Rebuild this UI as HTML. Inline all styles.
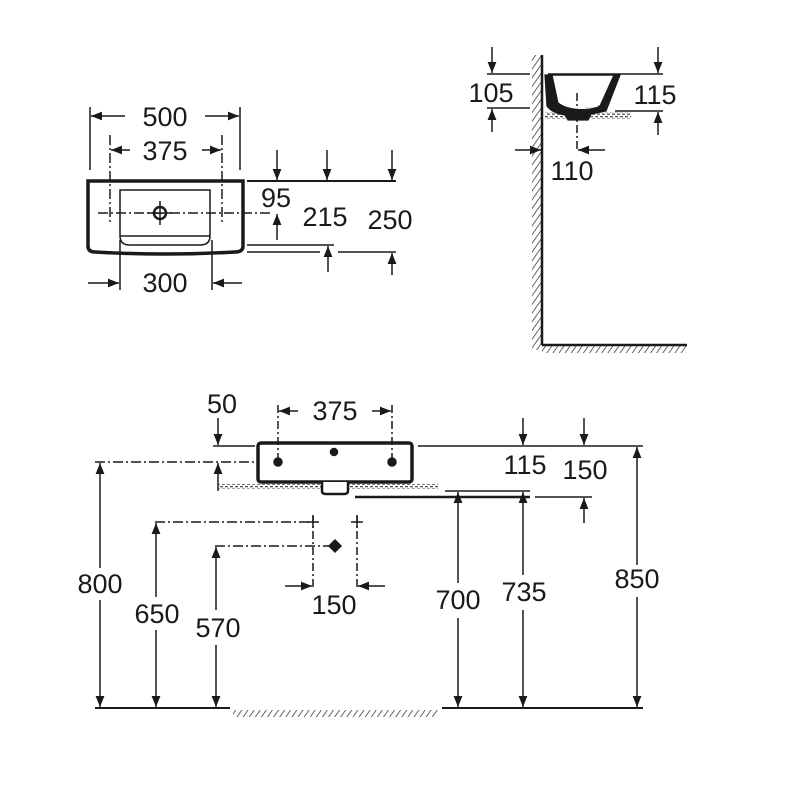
<!DOCTYPE html>
<html><head><meta charset="utf-8"><style>html,body{margin:0;padding:0;background:#fff}svg{display:block}text{font-family:"Liberation Sans",sans-serif;font-size:27px;fill:#1a1a1a}</style></head><body>
<svg width="800" height="800" viewBox="0 0 800 800" xmlns="http://www.w3.org/2000/svg">
<defs>
<marker id="a" viewBox="0 0 10 10" refX="10" refY="5" markerWidth="12" markerHeight="11" markerUnits="userSpaceOnUse" orient="auto"><path d="M0,1 L10,5 L0,9 z" fill="#1a1a1a"/></marker>
<pattern id="h" width="5" height="5" patternUnits="userSpaceOnUse" patternTransform="rotate(35)"><line x1="0" y1="0" x2="0" y2="5" stroke="#333" stroke-width="1.5"/></pattern>
<pattern id="d" width="5" height="5" patternUnits="userSpaceOnUse"><rect width="5" height="5" fill="#fff"/><rect x="0" y="1" width="3" height="1.3" fill="#555"/><rect x="2" y="3.5" width="3" height="1.3" fill="#555"/></pattern>
</defs>
<g stroke="#1a1a1a" stroke-width="1.5" fill="none">
<!-- TOP LEFT -->
<path d="M88,181 H243 V246 Q243,252 235,252 Q165,256 95,252 Q88,252 88,246 Z" stroke-width="3.5"/>
<path d="M120,190 H210 V236 Q210,245 200,245 H130 Q120,245 120,236 Z" stroke-width="1.5"/>
<line x1="120" y1="236" x2="210" y2="236"/>
<circle cx="160" cy="213" r="6" stroke-width="2.5"/>
<path d="M148,213H172M160,201V225" stroke-width="1.5"/>
<line x1="98" y1="213" x2="270" y2="213" stroke-dasharray="10,3,2,3"/>
<line x1="90" y1="107" x2="90" y2="170"/><line x1="240" y1="107" x2="240" y2="170"/>
<line x1="125" y1="116" x2="91" y2="116" marker-end="url(#a)"/><line x1="205" y1="116" x2="239" y2="116" marker-end="url(#a)"/>
<line x1="110" y1="135" x2="110" y2="225" stroke-dasharray="10,3,2,3"/><line x1="222" y1="135" x2="222" y2="225" stroke-dasharray="10,3,2,3"/>
<line x1="130" y1="150" x2="111" y2="150" marker-end="url(#a)"/><line x1="202" y1="150" x2="221" y2="150" marker-end="url(#a)"/>
<line x1="247" y1="181" x2="396" y2="181" stroke-width="2"/>
<line x1="277" y1="150" x2="277" y2="180" marker-end="url(#a)"/><line x1="327" y1="150" x2="327" y2="180" marker-end="url(#a)"/><line x1="392" y1="150" x2="392" y2="180" marker-end="url(#a)"/>
<line x1="277" y1="240" x2="277" y2="214" marker-end="url(#a)"/>
<line x1="247" y1="245" x2="334" y2="245"/><line x1="247" y1="252" x2="320" y2="252"/><line x1="338" y1="252" x2="396" y2="252"/>
<line x1="328" y1="272" x2="328" y2="246" marker-end="url(#a)"/><line x1="392" y1="275" x2="392" y2="253" marker-end="url(#a)"/>
<line x1="120" y1="240" x2="120" y2="290"/><line x1="212" y1="240" x2="212" y2="290"/>
<line x1="88" y1="283" x2="119" y2="283" marker-end="url(#a)"/><line x1="242" y1="283" x2="213" y2="283" marker-end="url(#a)"/>
<!-- TOP RIGHT -->
<rect x="532" y="55" width="10" height="295" fill="url(#h)" stroke="none"/>
<line x1="542" y1="55" x2="542" y2="345" stroke-width="2.5"/>
<rect x="542" y="345" width="145" height="8" fill="url(#h)" stroke="none"/>
<line x1="542" y1="345" x2="687" y2="345" stroke-width="2.5"/>
<rect x="545" y="112" width="86" height="7" fill="url(#d)" stroke="none"/>
<path d="M545,75 L547,106 Q552,113 565,115 L568,120 H588 L591,114 L606,111 L620,75 L614,75 L600,106 L590,108 Q570,111 558,103 L552,75 Z" fill="#1a1a1a" stroke-width="1.2"/>
<path d="M560,103 Q570,110 590,108 L598,106" stroke="#fff" stroke-width="1"/>
<line x1="552" y1="75" x2="614" y2="75" stroke-width="1.5"/>
<line x1="487" y1="74" x2="530" y2="74"/><line x1="548" y1="74" x2="663" y2="74"/>
<line x1="487" y1="108" x2="530" y2="108"/><line x1="615" y1="111" x2="663" y2="111"/>
<line x1="492" y1="47" x2="492" y2="73" marker-end="url(#a)"/><line x1="492" y1="132" x2="492" y2="109" marker-end="url(#a)"/>
<line x1="658" y1="47" x2="658" y2="73" marker-end="url(#a)"/><line x1="658" y1="135" x2="658" y2="112" marker-end="url(#a)"/>
<line x1="577" y1="93" x2="577" y2="152" stroke-dasharray="8,3,2,3"/>
<line x1="515" y1="150" x2="541" y2="150" marker-end="url(#a)"/><line x1="605" y1="150" x2="578" y2="150" marker-end="url(#a)"/>
<!-- BOTTOM -->
<rect x="218" y="484" width="220" height="5" fill="url(#d)" stroke="none"/>
<rect x="258" y="443" width="154" height="39" rx="3" stroke-width="3.5" fill="#fff"/>
<path d="M322,482 V491 Q322,494 326,494 H344 Q348,494 348,491 V482" stroke-width="2.5" fill="#fff"/>
<line x1="213" y1="446" x2="255" y2="446"/><line x1="418" y1="446" x2="643" y2="446"/>
<line x1="95" y1="462" x2="255" y2="462" stroke-dasharray="10,3,2,3"/>
<circle cx="278" cy="462" r="4" fill="#1a1a1a"/><circle cx="334" cy="452" r="3.5" fill="#1a1a1a"/><circle cx="392" cy="462" r="4" fill="#1a1a1a"/>
<line x1="278" y1="405" x2="278" y2="460" stroke-dasharray="8,3,2,3"/><line x1="392" y1="405" x2="392" y2="460" stroke-dasharray="8,3,2,3"/>
<line x1="298" y1="411" x2="279" y2="411" marker-end="url(#a)"/><line x1="372" y1="411" x2="391" y2="411" marker-end="url(#a)"/>
<line x1="218" y1="418" x2="218" y2="445" marker-end="url(#a)"/><line x1="218" y1="491" x2="218" y2="463" marker-end="url(#a)"/>
<line x1="445" y1="491" x2="530" y2="491"/><line x1="355" y1="497" x2="530" y2="497" stroke-width="2.5"/><line x1="535" y1="497" x2="592" y2="497"/>
<line x1="523" y1="418" x2="523" y2="445" marker-end="url(#a)"/>
<line x1="584" y1="418" x2="584" y2="445" marker-end="url(#a)"/><line x1="584" y1="523" x2="584" y2="498" marker-end="url(#a)"/>
<line x1="637" y1="565" x2="637" y2="447" marker-end="url(#a)"/><line x1="637" y1="597" x2="637" y2="707" marker-end="url(#a)"/>
<line x1="100" y1="568" x2="100" y2="463" marker-end="url(#a)"/><line x1="100" y1="600" x2="100" y2="707" marker-end="url(#a)"/>
<line x1="156" y1="597" x2="156" y2="523" marker-end="url(#a)"/><line x1="156" y1="630" x2="156" y2="707" marker-end="url(#a)"/>
<line x1="216" y1="610" x2="216" y2="547" marker-end="url(#a)"/><line x1="216" y1="645" x2="216" y2="707" marker-end="url(#a)"/>
<line x1="458" y1="583" x2="458" y2="492" marker-end="url(#a)"/><line x1="458" y1="618" x2="458" y2="707" marker-end="url(#a)"/>
<line x1="523" y1="575" x2="523" y2="492" marker-end="url(#a)"/><line x1="523" y1="610" x2="523" y2="707" marker-end="url(#a)"/>
<line x1="155" y1="522" x2="313" y2="522" stroke-dasharray="10,3,2,3"/>
<line x1="215" y1="546" x2="335" y2="546" stroke-dasharray="10,3,2,3"/>
<path d="M307,522H319M313,516V528M351,522H363M357,516V528" />
<path d="M335,540 L341,546 L335,552 L329,546 Z" fill="#1a1a1a"/>
<line x1="313" y1="515" x2="313" y2="590" stroke-dasharray="8,3,2,3"/><line x1="357" y1="515" x2="357" y2="590" stroke-dasharray="8,3,2,3"/>
<line x1="285" y1="586" x2="312" y2="586" marker-end="url(#a)"/><line x1="385" y1="586" x2="358" y2="586" marker-end="url(#a)"/>
<line x1="95" y1="708" x2="230" y2="708" stroke-width="2"/><line x1="442" y1="708" x2="643" y2="708" stroke-width="2"/>
<rect x="233" y="710" width="205" height="7" fill="url(#h)" stroke="none"/>
</g>
<g text-anchor="middle">
<text x="165" y="126">500</text>
<text x="165" y="160">375</text>
<text x="276" y="207">95</text>
<text x="325" y="226">215</text>
<text x="390" y="229">250</text>
<text x="165" y="292">300</text>
<text x="491" y="102">105</text>
<text x="655" y="104">115</text>
<text x="572" y="180">110</text>
<text x="222" y="413">50</text>
<text x="335" y="420">375</text>
<text x="525" y="474">115</text>
<text x="585" y="479">150</text>
<text x="100" y="593">800</text>
<text x="157" y="623">650</text>
<text x="218" y="637">570</text>
<text x="458" y="609">700</text>
<text x="524" y="601">735</text>
<text x="637" y="588">850</text>
<text x="334" y="614">150</text>
</g>
</svg>
</body></html>
